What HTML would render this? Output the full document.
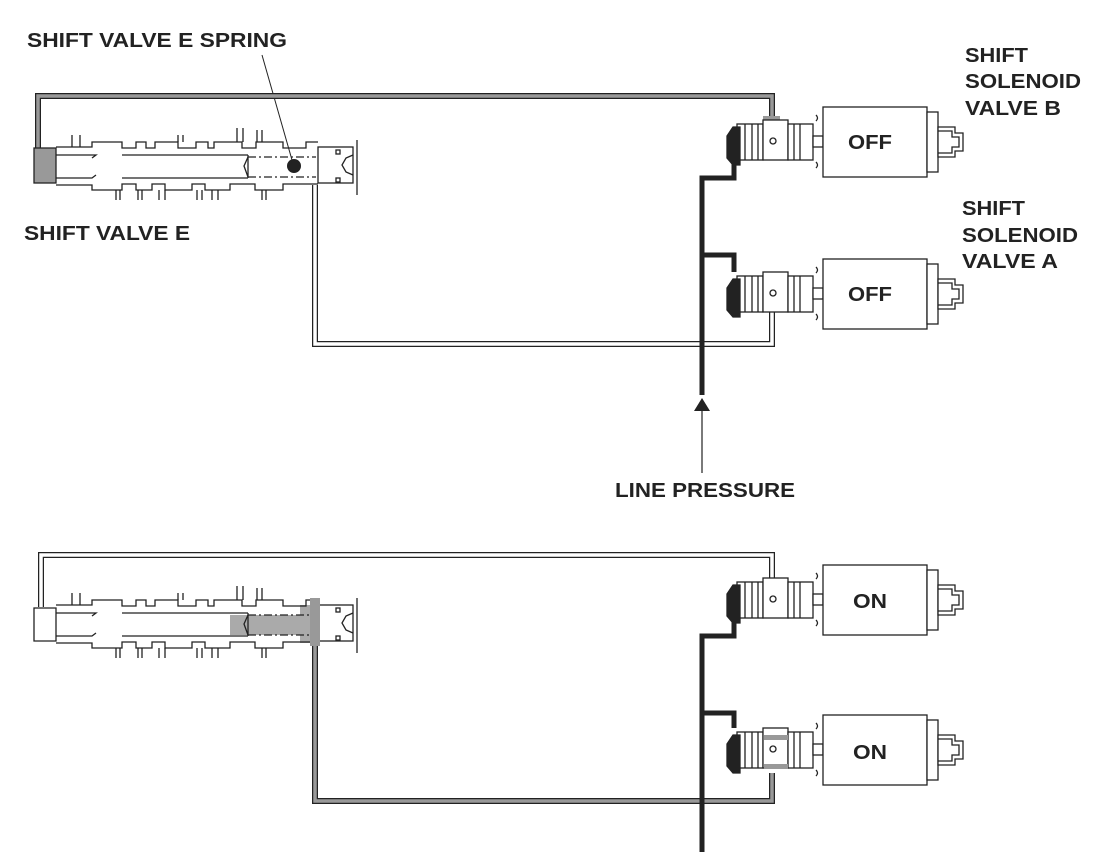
<!DOCTYPE html>
<html><head><meta charset="utf-8"><style>
html,body{margin:0;padding:0;background:#fff;}
svg{display:block;}
text{font-family:"Liberation Sans",Arial,sans-serif;font-weight:bold;fill:#222;}
</style></head><body>
<svg width="1096" height="868" viewBox="0 0 1096 868" xmlns="http://www.w3.org/2000/svg">
<defs>
<g id="valve" fill="none" stroke="#222" stroke-width="1.3">
  <path d="M56 155 H96 L92 158 M56 178 H92 L96 175"/>
  <path d="M122 155 H248 M122 178 H248"/>
  <path d="M56 147 H92 V142 H122 V148 H136 V142 H146 V148 H155 V142 H178 V148 H196 V142 H208 V148 H214 V142 H242 V148 H256 V142 H283 V148 H306 V142 H318"/>
  <path d="M56 185 H92 V190 H122 V184 H136 V190 H152 V184 H165 V190 H192 V184 H205 V190 H230 V184 H255 V190 H283 V184 H318"/>
  <path d="M72 147 V135 M80 147 V135 M178 142 V135 M183 142 V135 M237 142 V128 M243 142 V128 M257 142 V130 M262 142 V130"/>
  <path d="M116 190 V200 M120 190 V200 M138 190 V200 M142 190 V200 M159 190 V200 M165 190 V200 M197 190 V200 M202 190 V200 M212 190 V200 M218 190 V200 M262 190 V200 M266 190 V200"/>
  <rect x="318" y="147" width="35" height="36"/>
  <path d="M353 155 L346 158 L342 165 L346 172 L353 175"/>
  <rect x="336" y="150" width="4" height="4"/>
  <rect x="336" y="178" width="4" height="4"/>
  <path d="M357 140 V195"/>
  <path d="M248 157 L244 166 L248 177"/>
  <path d="M248 157 H316 M248 177 H316" stroke-dasharray="8 3 2 3"/>
  <path d="M248 155 V178"/>
</g>
<g id="sol" fill="#fff" stroke="#222" stroke-width="1.3">
  <rect x="737" y="124" width="26" height="36"/>
  <path d="M745 124 V160 M752 124 V160 M758 124 V160" fill="none"/>
  <rect x="763" y="120" width="25" height="40"/>
  <circle cx="773" cy="141" r="3"/>
  <rect x="788" y="124" width="25" height="36"/>
  <path d="M794 124 V160 M800 124 V160" fill="none"/>
  <rect x="813" y="136" width="10" height="11"/>
  <path d="M816 115 q3 3 0 6 M816 162 q3 3 0 6" fill="none"/>
  <rect x="823" y="107" width="104" height="70"/>
  <rect x="927" y="112" width="11" height="60"/>
  <path d="M938 127 H955 V133 H963 V151 H955 V157 H938 Z"/>
  <path d="M938 131 H952 V137 H959 V147 H952 V153 H938" fill="none"/>
  <path d="M727 136 L733 127 H740 V165 H733 L727 158 Z" fill="#222"/>
</g>
</defs>

<text x="27" y="47" font-size="20" textLength="260" lengthAdjust="spacingAndGlyphs">SHIFT VALVE E SPRING</text>
<line x1="262" y1="55" x2="292" y2="160" stroke="#222" stroke-width="1"/>

<path d="M38 150 V96 H772 V122" fill="none" stroke="#222" stroke-width="6"/>
<path d="M38 150 V96 H772 V122" fill="none" stroke="#999" stroke-width="3.5"/>
<rect x="34" y="148" width="22" height="35" fill="#999" stroke="#222" stroke-width="1.3"/>
<rect x="763" y="116" width="17" height="8" fill="#999"/>

<use href="#valve"/>
<circle cx="294" cy="166" r="7" fill="#222"/>

<path d="M315 185 V344 H772 V312" fill="none" stroke="#222" stroke-width="6"/>
<path d="M315 185 V344 H772 V312" fill="none" stroke="#fff" stroke-width="3.5"/>

<use href="#sol"/>
<use href="#sol" y="152"/>
<text x="848" y="149" font-size="20" textLength="44" lengthAdjust="spacingAndGlyphs">OFF</text>
<text x="848" y="301" font-size="20" textLength="44" lengthAdjust="spacingAndGlyphs">OFF</text>

<path d="M702 395 V178 H734 V163 M702 255 H734 V272" fill="none" stroke="#222" stroke-width="5"/>
<path d="M694 411 L702 398 L710 411 Z" fill="#222"/>
<line x1="702" y1="411" x2="702" y2="473" stroke="#222" stroke-width="1.2"/>
<text x="615" y="497" font-size="20" textLength="180" lengthAdjust="spacingAndGlyphs">LINE PRESSURE</text>

<text x="965" y="62" font-size="20" textLength="63" lengthAdjust="spacingAndGlyphs">SHIFT</text>
<text x="965" y="88" font-size="20" textLength="116" lengthAdjust="spacingAndGlyphs">SOLENOID</text>
<text x="965" y="115" font-size="20" textLength="96" lengthAdjust="spacingAndGlyphs">VALVE B</text>
<text x="962" y="215" font-size="20" textLength="63" lengthAdjust="spacingAndGlyphs">SHIFT</text>
<text x="962" y="242" font-size="20" textLength="116" lengthAdjust="spacingAndGlyphs">SOLENOID</text>
<text x="962" y="268" font-size="20" textLength="96" lengthAdjust="spacingAndGlyphs">VALVE A</text>
<text x="24" y="240" font-size="20" textLength="166" lengthAdjust="spacingAndGlyphs">SHIFT VALVE E</text>

<path d="M41 607 V555 H772 V582" fill="none" stroke="#222" stroke-width="6"/>
<path d="M41 607 V555 H772 V582" fill="none" stroke="#fff" stroke-width="3.5"/>
<g transform="translate(0,458)">
  <rect x="300" y="147" width="18" height="38" fill="#aaa"/>
  <rect x="230" y="157" width="86" height="20" fill="#aaa"/>
  <use href="#valve"/>
  <path d="M34 150 H56 V183 H34 Z" fill="#fff" stroke="#222" stroke-width="1.3"/>
</g>
<path d="M315 643 V801 H772 V773" fill="none" stroke="#222" stroke-width="6"/>
<path d="M315 643 V801 H772 V773" fill="none" stroke="#999" stroke-width="3.5"/>
<rect x="310" y="598" width="10" height="48" fill="#999"/>

<use href="#sol" y="458"/>
<use href="#sol" y="608"/>
<rect x="764" y="735" width="24" height="5" fill="#999"/>
<rect x="764" y="764" width="24" height="5" fill="#999"/>
<text x="853" y="608" font-size="20" textLength="34" lengthAdjust="spacingAndGlyphs">ON</text>
<text x="853" y="759" font-size="20" textLength="34" lengthAdjust="spacingAndGlyphs">ON</text>

<path d="M702 852 V636 H734 V621 M702 713 H734 V728" fill="none" stroke="#222" stroke-width="5"/>
</svg>
</body></html>
